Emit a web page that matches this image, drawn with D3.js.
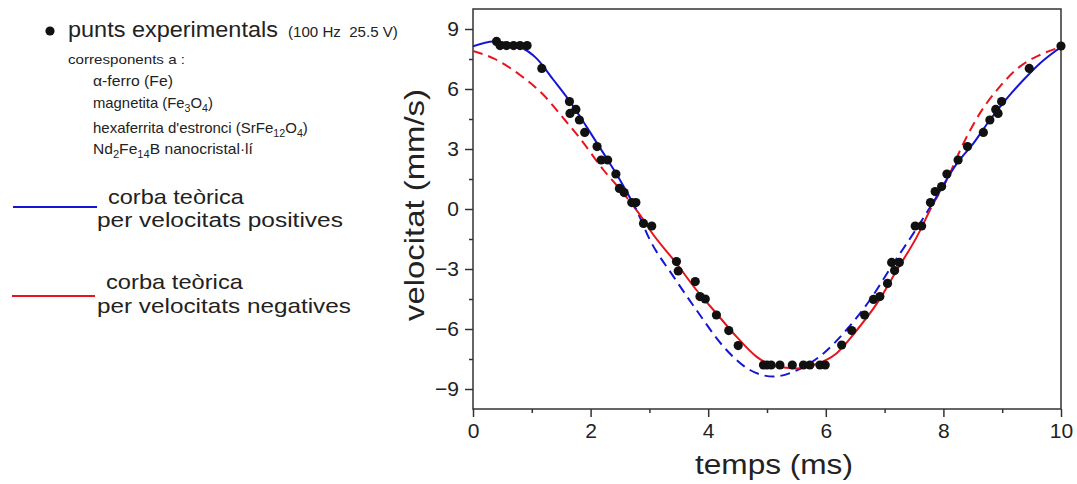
<!DOCTYPE html>
<html>
<head>
<meta charset="utf-8">
<script src="https://cdn.jsdelivr.net/npm/d3@7"></script>
<style>
  body { margin: 0; background: #fff; }
  text { font-family: "Liberation Sans", Arial, sans-serif; fill: #222; }
</style>
</head>
<body>
<svg id="vis" width="1077" height="484"></svg>
<script>
// experimental points (t in ms, v in mm/s)
var dotT = [0.40, 0.46, 0.57, 0.69, 0.80, 0.92, 1.17, 1.64, 1.65, 1.75, 1.81, 1.90, 2.11, 2.18, 2.29, 2.43, 2.49, 2.57, 2.70, 2.77,
            2.90, 3.04, 3.46, 3.49, 3.78, 3.86, 3.95, 4.14, 4.35, 4.51, 4.94, 5.00, 5.07, 5.22, 5.43, 5.62, 5.73, 5.90, 5.99,
            6.27, 6.44, 6.66, 6.81, 6.92, 7.05, 7.12, 7.17, 7.25, 7.52, 7.63, 7.78, 7.86, 7.97, 8.06, 8.25, 8.41, 8.68, 8.79,
            8.89, 8.93, 8.99, 9.46, 10.0];
var dotV = [8.38, 8.17, 8.17, 8.17, 8.17, 8.17, 7.03, 5.37, 4.78, 4.98, 4.45, 3.83, 3.12, 2.45, 2.45, 1.75, 1.03, 0.82, 0.32, 0.32,
            -0.72, -0.85, -2.63, -3.10, -3.63, -4.38, -4.50, -5.30, -6.08, -6.83, -7.80, -7.80, -7.80, -7.80, -7.80, -7.80, -7.80, -7.80, -7.80,
            -6.80, -6.08, -5.30, -4.52, -4.38, -3.72, -2.67, -3.08, -2.67, -0.85, -0.85, 0.32, 0.87, 1.12, 1.75, 2.45, 3.12, 3.83, 4.45,
            4.98, 4.78, 5.37, 7.03, 8.15];

// theoretical curve for positive velocities (blue)
var blueT = [0, 0.35, 0.80, 1.08, 1.37, 1.65, 1.93, 2.22, 2.50, 2.78, 3.01, 3.41, 3.80, 4.26, 4.71, 5.11, 5.48, 5.96, 6.35, 6.75, 7.15, 7.49, 7.83, 8.23, 8.51, 8.79, 9.08, 9.36, 9.64, 10];
var blueV = [8.13, 8.37, 8.10, 7.53, 6.45, 5.37, 4.12, 2.78, 1.45, -0.05, -1.55, -3.38, -5.05, -6.88, -8.05, -8.38, -8.10, -7.22, -6.05, -4.55, -2.72, -1.22, 0.35, 2.28, 3.28, 4.45, 5.53, 6.45, 7.28, 8.10];

// theoretical curve for negative velocities (red)
var redT = [0, 0.35, 0.80, 1.20, 1.54, 1.82, 2.22, 2.56, 2.90, 3.01, 3.46, 3.80, 4.14, 4.48, 4.82, 5.16, 5.50, 5.79, 6.18, 6.53, 6.87, 7.21, 7.55, 7.83, 8.04, 8.34, 8.62, 8.96, 9.30, 9.64, 10];
var redV = [7.90, 7.53, 6.70, 5.70, 4.53, 3.53, 1.95, 0.78, -0.55, -1.05, -2.72, -4.05, -5.22, -6.38, -7.38, -7.88, -7.97, -7.80, -7.22, -6.05, -4.72, -3.05, -1.38, 0.28, 1.35, 3.28, 4.78, 6.12, 7.12, 7.70, 8.10];

var xTicks = [0, 2, 4, 6, 8, 10];
var xMinor = [1, 3, 5, 7, 9];
var yTicks = [-9, -6, -3, 0, 3, 6, 9];
var yMinor = [-7.5, -4.5, -1.5, 1.5, 4.5, 7.5];

var blue = "#1515d6", red = "#e8141c";

var svg = d3.select("#vis");
var plot = { left: 473, right: 1061, top: 9, bottom: 409 };

var x = d3.scaleLinear().domain([0, 10]).range([plot.left, plot.right]);
var y = d3.scaleLinear().domain([-10, 10]).range([plot.bottom, plot.top]);

// stretch a text horizontally so it covers a given width (reference type is wide)
function fitWidth(sel, x0, w) {
    var len = sel.node().getComputedTextLength();
    var k = w / len;
    sel.attr("transform", "translate(" + x0 + ",0) scale(" + k + ",1) translate(" + (-x0) + ",0)");
}

// clip regions above / below zero
var defs = svg.append("defs");
defs.append("clipPath").attr("id", "pos").append("rect")
    .attr("x", plot.left).attr("y", plot.top - 5)
    .attr("width", plot.right - plot.left).attr("height", y(0) - plot.top + 5);
defs.append("clipPath").attr("id", "neg").append("rect")
    .attr("x", plot.left).attr("y", y(0))
    .attr("width", plot.right - plot.left).attr("height", plot.bottom - y(0));

// axes
var xAxis = d3.axisBottom(x).tickValues(xTicks).tickSize(8).tickPadding(6).tickSizeOuter(0);
var xAxisMinor = d3.axisBottom(x).tickValues(xMinor).tickSize(4).tickFormat("");
var yAxis = d3.axisLeft(y).tickValues(yTicks).tickSize(8).tickPadding(6).tickSizeOuter(0);
var yAxisMinor = d3.axisLeft(y).tickValues(yMinor).tickSize(4).tickFormat("");

function styleAxis(g) {
    g.select(".domain").remove();
    g.selectAll("line").attr("stroke", "#333").attr("stroke-width", 1.5);
    g.selectAll("text").attr("font-size", 21).attr("fill", "#222")
        .style("font-family", "'Liberation Sans', Arial, sans-serif");
}

svg.append("g").attr("transform", "translate(0," + plot.bottom + ")").call(xAxis).call(styleAxis);
svg.append("g").attr("transform", "translate(0," + plot.bottom + ")").call(xAxisMinor).call(styleAxis);
svg.append("g").attr("transform", "translate(" + plot.left + ",0)").call(yAxis).call(styleAxis);
svg.append("g").attr("transform", "translate(" + plot.left + ",0)").call(yAxisMinor).call(styleAxis);

svg.append("rect")
    .attr("x", plot.left).attr("y", plot.top)
    .attr("width", plot.right - plot.left).attr("height", plot.bottom - plot.top)
    .attr("fill", "none").attr("stroke", "#333").attr("stroke-width", 1.5);

// curves
var line = d3.line().x(d => x(d[0])).y(d => y(d[1])).curve(d3.curveMonotoneX);
var blueData = d3.zip(blueT, blueV);
var redData = d3.zip(redT, redV);

function drawCurve(data, color, clip, dashed) {
    svg.append("path")
        .datum(data)
        .attr("clip-path", "url(#" + clip + ")")
        .attr("d", line)
        .attr("fill", "none")
        .attr("stroke", color)
        .attr("stroke-width", 2)
        .attr("stroke-dasharray", dashed ? "10,6" : null);
}
drawCurve(redData, red, "pos", true);
drawCurve(blueData, blue, "neg", true);
drawCurve(blueData, blue, "pos", false);
drawCurve(redData, red, "neg", false);

// points
svg.append("g").selectAll("circle")
    .data(d3.zip(dotT, dotV))
    .enter()
    .append("circle")
    .attr("cx", d => x(d[0]))
    .attr("cy", d => y(d[1]))
    .attr("r", 4.6)
    .attr("fill", "#111");

// axis titles
var xt = svg.append("text")
    .attr("x", 695).attr("y", 474)
    .attr("font-size", 27)
    .text("temps (ms)");
fitWidth(xt, 695, 158);

var yt = svg.append("text")
    .attr("x", 0).attr("y", 0)
    .attr("font-size", 27)
    .attr("text-anchor", "middle")
    .text("velocitat (mm/s)");
var yLen = yt.node().getComputedTextLength();
yt.attr("transform", "translate(424,205) rotate(-90) scale(" + (232 / yLen) + ",1)");

// legend
var legend = svg.append("g");
legend.append("circle").attr("cx", 50).attr("cy", 31).attr("r", 4.6).attr("fill", "#111");

var t1 = legend.append("text").attr("x", 68).attr("y", 37).attr("font-size", 22).text("punts experimentals");
fitWidth(t1, 68, 210);
var t2 = legend.append("text").attr("x", 288).attr("y", 37).attr("font-size", 14).text("(100 Hz  25.5 V)")
    .attr("xml:space", "preserve");
fitWidth(t2, 288, 110);
var t3 = legend.append("text").attr("x", 68).attr("y", 64).attr("font-size", 13).text("corresponents a :");
fitWidth(t3, 68, 117);

function subText(xx, yy, parts, w) {
    var t = legend.append("text").attr("x", xx).attr("y", yy).attr("font-size", 14);
    parts.forEach(function(p) {
        var ts = t.append("tspan").text(p[0]);
        if (p[1]) ts.attr("font-size", 10).attr("dy", 4);
        else if (p[2]) ts.attr("dy", -4);
    });
    fitWidth(t, xx, w);
}
subText(93, 86, [["α-ferro (Fe)"]], 80);
subText(93, 108, [["magnetita (Fe"], ["3", 1], ["O", 0, 1], ["4", 1], [")", 0, 1]], 120);
subText(93, 133, [["hexaferrita d'estronci (SrFe"], ["12", 1], ["O", 0, 1], ["4", 1], [")", 0, 1]], 215);
subText(93, 154, [["Nd"], ["2", 1], ["Fe", 0, 1], ["14", 1], ["B nanocristal·lí", 0, 1]], 160);

legend.append("line").attr("x1", 13).attr("x2", 97).attr("y1", 207).attr("y2", 207)
    .attr("stroke", blue).attr("stroke-width", 2);
legend.append("line").attr("x1", 12).attr("x2", 95).attr("y1", 296).attr("y2", 296)
    .attr("stroke", red).attr("stroke-width", 2);

var l1 = legend.append("text").attr("x", 108).attr("y", 204).attr("font-size", 21).text("corba teòrica");
fitWidth(l1, 108, 136);
var l2 = legend.append("text").attr("x", 97).attr("y", 227).attr("font-size", 21).text("per velocitats positives");
fitWidth(l2, 97, 246);
var l3 = legend.append("text").attr("x", 106).attr("y", 289).attr("font-size", 21).text("corba teòrica");
fitWidth(l3, 106, 137);
var l4 = legend.append("text").attr("x", 97).attr("y", 313).attr("font-size", 21).text("per velocitats negatives");
fitWidth(l4, 97, 254);
</script>
</body>
</html>
